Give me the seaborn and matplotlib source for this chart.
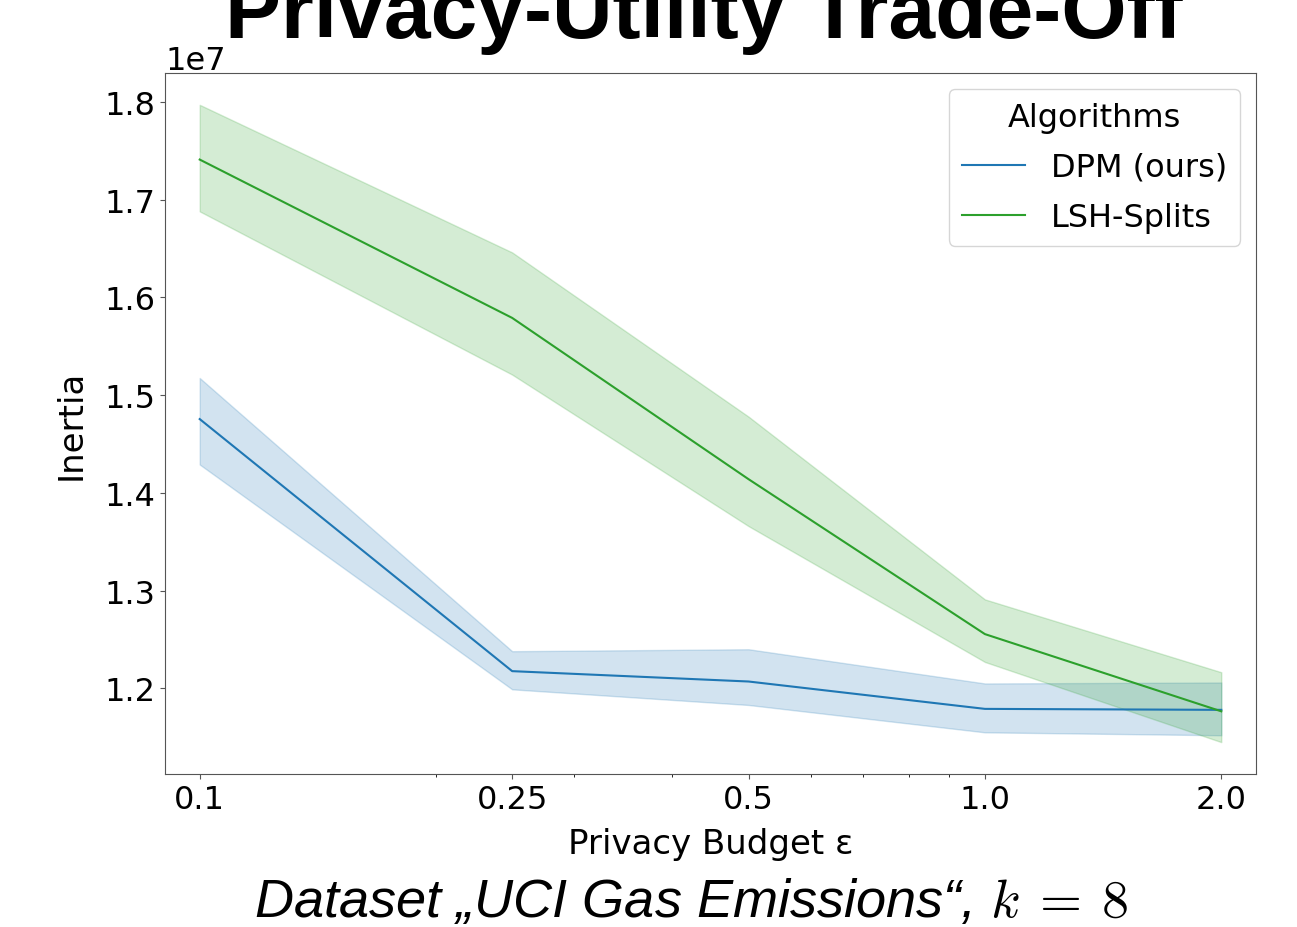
import pandas as pd
import seaborn as sns
import matplotlib.pyplot as plt

# Privacy budgets (x axis, log scale)
eps = [0.1, 0.25, 0.5, 1.0, 2.0]
eps_labels = ["0.1", "0.25", "0.5", "1.0", "2.0"]
algorithms = ["DPM (ours)", "LSH-Splits"]

# Inertia (units of 1e7): mean and band edges
dpm_mean = [1.4755, 1.2176, 1.2070, 1.1790, 1.1780]
dpm_low = [1.4290, 1.1990, 1.1830, 1.1550, 1.1520]
dpm_high = [1.5175, 1.2380, 1.2400, 1.2050, 1.2060]

lsh_mean = [1.7410, 1.5790, 1.4140, 1.2555, 1.1765]
lsh_low = [1.6880, 1.5210, 1.3660, 1.2270, 1.1450]
lsh_high = [1.7970, 1.6460, 1.4780, 1.2910, 1.2165]

# Long-form table: band edges + centre per point, so median = line, min/max = band
rows = []
for algo, lo, mid, hi in [("DPM (ours)", dpm_low, dpm_mean, dpm_high),
                          ("LSH-Splits", lsh_low, lsh_mean, lsh_high)]:
    for e, a, b, c in zip(eps, lo, mid, hi):
        for v in (a, b, c):
            rows.append({"eps": e, "Inertia": v * 1e7, "Algorithm": algo})
df = pd.DataFrame(rows)

plt.rcParams["mathtext.fontset"] = "cm"

fig = plt.figure(figsize=(12.97, 9.28), dpi=100)
ax = fig.add_axes([0.1272, 0.1649, 0.9684 - 0.1272, 0.9203 - 0.1649])

sns.lineplot(data=df, x="eps", y="Inertia", hue="Algorithm", hue_order=algorithms,
             estimator="median", errorbar=("pi", 100),
             palette={"DPM (ours)": "tab:blue", "LSH-Splits": "tab:green"}, ax=ax)

ax.set_xscale("log")
ax.margins(x=0.034)
ax.set_xticks(eps)
ax.set_xticklabels(eps_labels)
ax.tick_params(axis="both", labelsize=23, color="#555555")
ax.yaxis.get_offset_text().set_fontsize(23)
for s in ax.spines.values():
    s.set_color("#555555")
ax.set_xlabel("Privacy Budget ε", fontsize=24.5, labelpad=9)
ax.set_ylabel("Inertia", fontsize=24.5, labelpad=12)

ax.legend(title="Algorithms", fontsize=23, title_fontsize=23, loc="upper right",
          labelspacing=0.6, handletextpad=0.8)

# Slide title (cut off at the top, as on the slide) and caption
fig.text(0.543, 0.959, "Privacy-Utility Trade-Off", ha="center", va="baseline",
         fontsize=60.5, fontweight="bold", family="Liberation Sans")
fig.text(0.533, 0.012, "Dataset „UCI Gas Emissions“, $k\\:=\\:8$", ha="center", va="baseline",
         fontsize=39, style="italic", family="Liberation Sans")

plt.savefig("out.png", dpi=100)
